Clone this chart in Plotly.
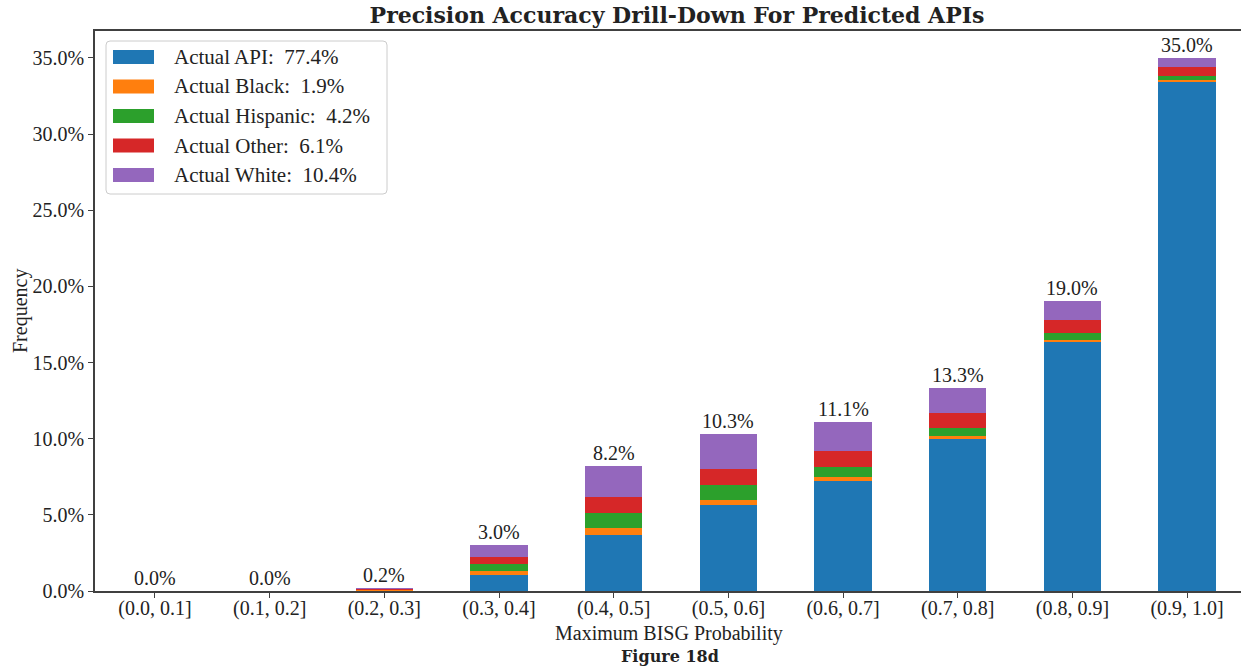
import plotly.graph_objects as go

# Probability bins (x categories)
bins = ["(0.0, 0.1]", "(0.1, 0.2]", "(0.2, 0.3]", "(0.3, 0.4]", "(0.4, 0.5]",
        "(0.5, 0.6]", "(0.6, 0.7]", "(0.7, 0.8]", "(0.8, 0.9]", "(0.9, 1.0]"]

# Share of all predicted-API records (%) by actual race, per bin
actual_api = [0.0, 0.0, 0.01, 1.05, 3.68, 5.65, 7.20, 9.98, 16.33, 33.44]
actual_black = [0.0, 0.0, 0.10, 0.26, 0.48, 0.35, 0.26, 0.20, 0.15, 0.13]
actual_hispanic = [0.0, 0.0, 0.02, 0.46, 0.94, 0.93, 0.66, 0.53, 0.44, 0.24]
actual_other = [0.0, 0.0, 0.04, 0.45, 1.05, 1.05, 1.08, 1.01, 0.88, 0.59]
actual_white = [0.0, 0.0, 0.01, 0.80, 2.08, 2.33, 1.88, 1.60, 1.24, 0.61]

series_names = ["Actual API", "Actual Black", "Actual Hispanic", "Actual Other", "Actual White"]
series_shares = ["77.4%", "1.9%", "4.2%", "6.1%", "10.4%"]
series_values = [actual_api, actual_black, actual_hispanic, actual_other, actual_white]
colors = ["#1f77b4", "#ff7f0e", "#2ca02c", "#d62728", "#9467bd"]

W, H = 1241, 667
L, R, T, B = 95, 0, 31, 76
PW, PH = W - L - R, H - T - B

SERIF = "Liberation Serif"
BOLD = "DejaVu Serif"
AX = "#404040"
INK = "#222"

fig = go.Figure()
for name, vals, col in zip(series_names, series_values, colors):
    fig.add_trace(go.Bar(
        x=bins, y=vals, name=name, width=0.5,
        marker=dict(color=col, line=dict(width=0)),
        showlegend=False, hoverinfo="x+y+name",
    ))

totals = [sum(v) for v in zip(*series_values)]
annotations = []
for b, t in zip(bins, totals):
    annotations.append(dict(
        x=b, y=t, xref="x", yref="y", text=f"{t:.1f}%", showarrow=False,
        xanchor="center", yanchor="bottom", yshift=0,
        font=dict(family=SERIF, size=20, color=INK),
    ))


def px_x(p):
    return (p - L) / PW


def px_y(p):
    return (T + PH - p) / PH


# Legend box drawn in the upper-left corner of the axes
shapes = []
bx0, bx1, by0, by1 = 106, 387, 41, 194
r = 4
path = (f"M {px_x(bx0 + r)},{px_y(by0)} L {px_x(bx1 - r)},{px_y(by0)} "
        f"Q {px_x(bx1)},{px_y(by0)} {px_x(bx1)},{px_y(by0 + r)} "
        f"L {px_x(bx1)},{px_y(by1 - r)} Q {px_x(bx1)},{px_y(by1)} {px_x(bx1 - r)},{px_y(by1)} "
        f"L {px_x(bx0 + r)},{px_y(by1)} Q {px_x(bx0)},{px_y(by1)} {px_x(bx0)},{px_y(by1 - r)} "
        f"L {px_x(bx0)},{px_y(by0 + r)} Q {px_x(bx0)},{px_y(by0)} {px_x(bx0 + r)},{px_y(by0)} Z")
shapes.append(dict(type="path", path=path, xref="paper", yref="paper",
                   fillcolor="rgba(255,255,255,0.85)", line=dict(color="#cccccc", width=1)))
row_y = [57, 86.5, 116, 145.5, 175]
for name, share, col, ry in zip(series_names, series_shares, colors, row_y):
    shapes.append(dict(type="rect", xref="paper", yref="paper",
                       x0=px_x(113), x1=px_x(154), y0=px_y(ry + 7), y1=px_y(ry - 7),
                       fillcolor=col, line=dict(width=0)))
    annotations.append(dict(
        x=px_x(172), y=px_y(ry), xref="paper", yref="paper",
        text=f"{name}:\u00a0 {share}", showarrow=False, xanchor="left", yanchor="middle",
        font=dict(family=SERIF, size=21, color=INK),
    ))

# Axis titles and caption
annotations.append(dict(x=px_x(20), y=px_y(311), xref="paper", yref="paper", text="Frequency",
                        textangle=-90, showarrow=False, xanchor="center", yanchor="middle",
                        font=dict(family=SERIF, size=20, color=INK)))
annotations.append(dict(x=px_x(669), y=px_y(633), xref="paper", yref="paper",
                        text="Maximum BISG Probability", showarrow=False,
                        xanchor="center", yanchor="middle",
                        font=dict(family=SERIF, size=20, color=INK)))
annotations.append(dict(x=px_x(670), y=px_y(656), xref="paper", yref="paper",
                        text="<b>Figure 18d</b>", showarrow=False,
                        xanchor="center", yanchor="middle",
                        font=dict(family=BOLD, size=16, color=INK)))

fig.update_layout(
    width=W, height=H,
    margin=dict(l=L, r=R, t=T, b=B, pad=0),
    paper_bgcolor="white", plot_bgcolor="white",
    barmode="stack",
    title=dict(text="<b>Precision Accuracy Drill-Down For Predicted APIs</b>",
               x=677 / W, xanchor="center", y=1 - 15 / H, yanchor="middle",
               font=dict(family=BOLD, size=22, color=INK)),
    xaxis=dict(range=[-0.523, 9.47], showgrid=False, zeroline=False,
               showline=True, linecolor=AX, linewidth=1.5, mirror=True,
               ticks="outside", ticklen=5, tickcolor=AX, ticklabelstandoff=-7,
               tickfont=dict(family=SERIF, size=20, color=INK)),
    yaxis=dict(range=[0, 36.77], showgrid=False, zeroline=False,
               showline=True, linecolor=AX, linewidth=1.5,
               ticks="outside", ticklen=5, tickcolor=AX,
               tickvals=[0, 5, 10, 15, 20, 25, 30, 35],
               ticktext=[f"{v:.1f}%" for v in [0, 5, 10, 15, 20, 25, 30, 35]],
               tickfont=dict(family=SERIF, size=20, color=INK)),
    annotations=annotations, shapes=shapes,
    font=dict(family=SERIF, color=INK),
)

fig.write_html("out.html")
